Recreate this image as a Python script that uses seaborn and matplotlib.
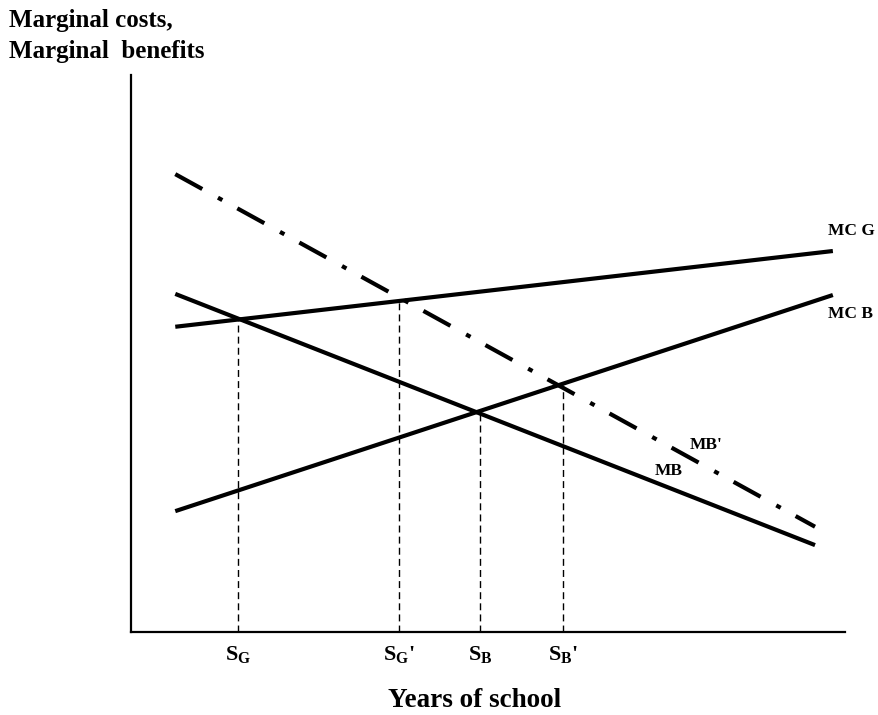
import matplotlib
matplotlib.use("Agg")
import matplotlib.pyplot as plt
import seaborn as sns
import numpy as np

# curves (abstract units, 0-100 on both axes)
curve_x = [6.2, 95.8]
mb_prime = [82.2, 18.9]
mb = [60.7, 15.6]
mcg_x = [6.2, 98.3]
mc_g = [54.8, 68.4]
mc_b = [21.7, 60.5]

# equilibrium schooling levels and the heights where the curves cross
school_levels = [15.0, 37.5, 48.9, 60.5]
cross_heights = [56.2, 59.8, 39.5, 44.3]
school_labels = [r"$\mathbf{S}_{\mathbf{G}}$", r"$\mathbf{S}_{\mathbf{G}}$'",
                 r"$\mathbf{S}_{\mathbf{B}}$", r"$\mathbf{S}_{\mathbf{B}}$'"]

curve_names = ["MC G", "MC B", "MB'", "MB"]
name_x = [97.6, 97.6, 78.3, 73.4]
name_y = [72.0, 57.1, 33.6, 28.9]

sns.set_style("white")
plt.rcParams["font.family"] = ["Liberation Serif", "DejaVu Serif"]
plt.rcParams["mathtext.fontset"] = "custom"
plt.rcParams["mathtext.bf"] = "Liberation Serif:bold"
plt.rcParams["mathtext.rm"] = "Liberation Serif:bold"
plt.rcParams["text.color"] = "black"
plt.rcParams["xtick.color"] = "black"

fig = plt.figure(figsize=(8.79, 7.15), dpi=100)
ax = fig.add_axes([131 / 879, 83 / 715, 714 / 879, 557 / 715])

sns.lineplot(x=curve_x, y=mb_prime, ax=ax, color="black", linewidth=3,
             linestyle=(0, (7.4, 4.3, 1.2, 4.1)), dash_capstyle="butt")
for ys, xs in [(mb, curve_x), (mc_g, mcg_x), (mc_b, mcg_x)]:
    sns.lineplot(x=xs, y=ys, ax=ax, color="black", linewidth=3,
                 solid_capstyle="butt")

ax.vlines(school_levels, 0, cross_heights, colors="black", linewidth=1,
          linestyles=(0, (5, 3)))

for name, tx, ty in zip(curve_names, name_x, name_y):
    ax.text(tx, ty, name, fontsize=12.5, fontweight="bold", color="black",
            ha="left", va="center")

ax.set_xlim(0, 100)
ax.set_ylim(0, 100)
ax.set_xticks(school_levels)
ax.set_xticklabels(school_labels, fontsize=16, fontweight="bold", color="black")
ax.set_yticks([])
ax.tick_params(axis="x", length=0, pad=9)
sns.despine(ax=ax)
for side in ["left", "bottom"]:
    ax.spines[side].set_linewidth(1.6)
    ax.spines[side].set_color("black")

fig.text(9 / 879, 1 - 9 / 715, "Marginal costs,\nMarginal  benefits",
         fontsize=18, fontweight="bold", color="black", ha="left", va="top",
         linespacing=1.45)
fig.text(475 / 879, 8 / 715, "Years of school", fontsize=19.5, fontweight="bold",
         color="black", ha="center", va="baseline")

fig.savefig("out.png", dpi=100)
